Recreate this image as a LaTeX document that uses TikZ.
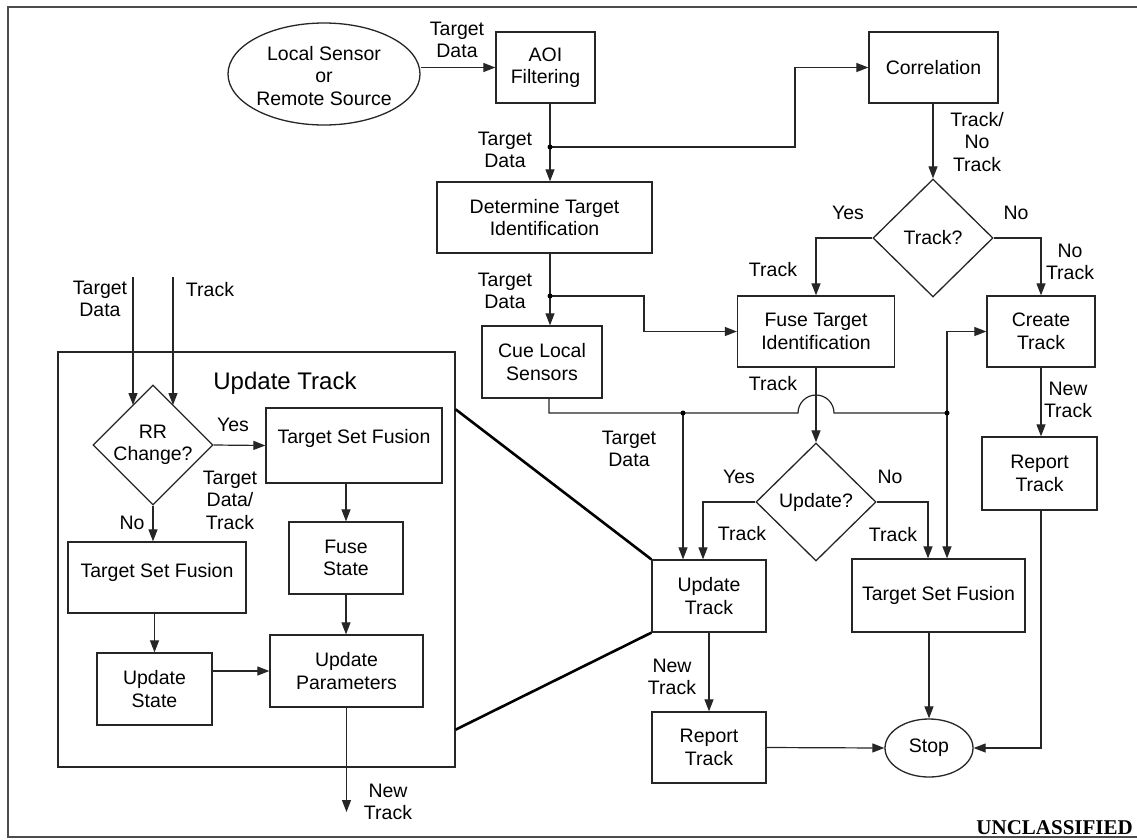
\documentclass[tikz,border=0pt]{standalone}
\usepackage{fontspec}
\setmainfont{Liberation Sans}
\newfontfamily\serifb{Liberation Serif}
\usetikzlibrary{shapes.geometric,arrows.meta}
\begin{document}
\begin{tikzpicture}[x=1pt,y=-1pt,
  every node/.style={font=\fontsize{19.5}{22.5}\selectfont},
  box/.style={draw=black!85, line width=1.3pt, rectangle, align=center, inner sep=0pt},
  dia/.style={draw=black!85, line width=1.3pt, diamond, shape aspect=1, inner sep=0pt},
  ell/.style={draw=black!85, line width=1.3pt, ellipse, align=center, inner sep=0pt},
  arr/.style={draw=black!85, line width=1.2pt, -{Triangle[length=12pt,width=9pt]}},
  ln/.style={draw=black!85, line width=1.2pt},
  lbl/.style={align=center, inner sep=0pt},
  jdot/.style={circle, fill=black, inner sep=0pt, minimum size=5pt},
  heavy/.style={draw=black, line width=2.6pt}
]
\useasboundingbox (0,0) rectangle (1137,839);
\fill[white] (0,0) rectangle (1137,839);
\draw[line width=2.5pt, black!70] (8,7) rectangle (1140,837);

% ---------- right-hand flow ----------
\node[ell, minimum width=192pt, minimum height=102pt] (src) at (324,74) {};
\node[lbl] at (324,76) {Local Sensor\\or\\Remote Source};
\node[box, minimum width=99pt, minimum height=71pt] (aoi) at (545.5,67.5) {AOI\\Filtering};
\node[box, minimum width=129pt, minimum height=71pt] (corr) at (933.5,67.5) {Correlation};
\node[box, minimum width=215pt, minimum height=71pt] (dti) at (544.5,217.5) {Determine Target\\Identification};
\node[box, minimum width=120pt, minimum height=72pt] (cue) at (542,362) {Cue Local\\Sensors};
\node[dia, minimum width=120pt, minimum height=118pt] (trk) at (933,238) {};
\node[lbl] at (trk) {Track?};
\node[box, minimum width=157pt, minimum height=71pt] (fti) at (816,331.5) {Fuse Target\\Identification};
\node[box, minimum width=108pt, minimum height=71pt] (create) at (1041,331.5) {Create\\Track};
\node[box, minimum width=115pt, minimum height=73pt] (rep1) at (1039.5,473.5) {Report\\Track};
\node[dia, minimum width=120pt, minimum height=118pt] (upd) at (816,502) {};
\node[lbl] at (upd) {Update?};
\node[box, minimum width=114pt, minimum height=72pt] (ut) at (709,596) {Update\\Track};
\node[box, minimum width=173pt, minimum height=73pt] (tsfR) at (938.5,595.5) {Target Set Fusion};
\node[box, minimum width=114pt, minimum height=71pt] (rep2) at (709,747.5) {Report\\Track};
\node[ell, minimum width=88pt, minimum height=58pt] (stop) at (929,748) {Stop};

% ---------- left expanded Update Track ----------
\node[box, minimum width=397pt, minimum height=415pt] (big) at (256.5,559.5) {};
\node[lbl, font=\fontsize{24}{28}\selectfont] (title) at (285,383) {Update Track};
\node[dia, minimum width=120pt, minimum height=120pt] (rr) at (153,445) {};
\node[lbl] at (rr) {RR\\Change?};
\node[box, minimum width=176pt, minimum height=75pt] (tsfA) at (354,445.5) {};
\node[lbl] at (354,438) {Target Set Fusion};
\node[box, minimum width=178pt, minimum height=71pt] (tsfB) at (157,577.5) {};
\node[lbl] at (157,572) {Target Set Fusion};
\node[box, minimum width=114pt, minimum height=72pt] (fuse) at (346,558) {Fuse\\State};
\node[box, minimum width=115pt, minimum height=72pt] (ustate) at (154.5,689) {Update\\State};
\node[box, minimum width=153pt, minimum height=72pt] (upar) at (346.5,671) {Update\\Parameters};

% ---------- labels ----------
\node[lbl] at (457,40) {Target\\Data};
\node[lbl] at (505,150) {Target\\Data};
\node[lbl] at (505,291) {Target\\Data};
\node[lbl] at (977,142) {Track/\\No\\Track};
\node[lbl] at (848,213) {Yes};
\node[lbl] at (1016,213) {No};
\node[lbl] at (773,270) {Track};
\node[lbl] at (1070,262) {No\\Track};
\node[lbl] at (773,384) {Track};
\node[lbl] at (629,449) {Target\\Data};
\node[lbl] at (739,477) {Yes};
\node[lbl] at (742,534) {Track};
\node[lbl] at (890,477) {No};
\node[lbl] at (893,535) {Track};
\node[lbl] at (1068,400) {New\\Track};
\node[lbl] at (672,677) {New\\Track};
\node[lbl] at (388,802) {New\\Track};
\node[lbl] at (100,299) {Target\\Data};
\node[lbl] at (210,290) {Track};
\node[lbl] at (233,425) {Yes};
\node[lbl] at (230,500) {Target\\Data/\\Track};
\node[lbl] at (132,523) {No};
\node[anchor=base east, inner sep=0pt, font=\serifb\bfseries\fontsize{21}{24}\selectfont] at (1133,834) {UNCLASSIFIED};

% ---------- coordinates ----------
\coordinate (j1) at (550,147);
\coordinate (j2) at (550,296);
\coordinate (cx) at (549,413);
\coordinate (j3) at (683,413);
\coordinate (a1) at (798,413);
\coordinate (j4) at (947,413);
\coordinate (i1) at (133,277);
\coordinate (i2) at (173,277);
\coordinate (i1e) at (133,405);
\coordinate (i2e) at (173,405);
\coordinate (o1) at (346.5,812);
\path (big.north east) ++(0,58) coordinate (h1);
\path (big.south east) ++(0,-38) coordinate (h2);

% ---------- connectors ----------
\draw[arr] (src.east |- aoi.west) -- (aoi.west);
\draw[arr] (aoi.south -| j1) -- (dti.north -| j1);
\draw[arr] (j1) -- ++(245,0) |- (corr.west);
\draw[arr] (dti.south -| j2) -- (cue.north -| j2);
\draw[arr] (j2) -- ++(94,0) |- (fti.west);
\draw[arr] (corr.south -| trk.north) -- (trk.north);
\draw[arr] (trk.west) -| (fti.north);
\draw[arr] (trk.east) -| (create.north);
\draw[ln] (cue.south -| cx) -- (cx) -- (j3) -- (a1) arc[start angle=180, end angle=360, radius=18] -- (j4);
\draw[arr] (j3) -- (j3 |- ut.north);
\draw[arr] (j4) |- (create.west);
\draw[arr] (j4) -- (j4 |- tsfR.north);
\draw[arr] (fti.south) -- (upd.north);
\draw[arr] (upd.west) -| ([xshift=-6pt]ut.north);
\draw[arr] (upd.east) -| ([xshift=-10.5pt]tsfR.north);
\draw[arr] (create.south) -- (create.south |- rep1.north);
\draw[arr] ([xshift=1.5pt]rep1.south) |- (stop.east);
\draw[arr] (stop.north |- tsfR.south) -- (stop.north);
\draw[arr] (ut.south) -- (rep2.north);
\draw[arr] (rep2.east) -- (stop.west);
\node[jdot] at (j1) {};
\node[jdot] at (j2) {};
\node[jdot] at (j3) {};
\node[jdot] at (j4) {};
\draw[heavy] (h1) -- (ut.north west);
\draw[heavy] (h2) -- (ut.south west);

\draw[arr] (i1) -- (i1e);
\draw[arr] (i2) -- (i2e);
\draw[arr] (rr.east) -- (tsfA.west);
\draw[arr] (rr.south) -- (rr.south |- tsfB.north);
\draw[arr] (fuse.north |- tsfA.south) -- (fuse.north);
\draw[arr] (ustate.north |- tsfB.south) -- (ustate.north);
\draw[arr] (fuse.south) -- (fuse.south |- upar.north);
\draw[arr] (ustate.east |- upar.west) -- (upar.west);
\draw[arr] (upar.south) -- (o1);
\end{tikzpicture}
\end{document}
